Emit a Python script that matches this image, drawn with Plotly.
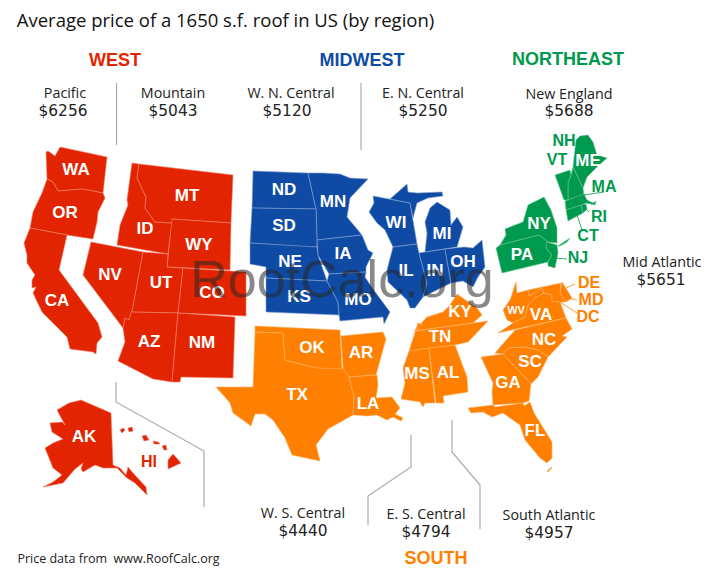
import plotly.graph_objects as go

# Outline of each state (page pixels)
WEST = {
    "WA": [(46,152),(48,151),(55,156),(60,147),(107,157),(103,193),(83,189),(58,191),(53,182),(47,179)],
    "OR": [(47,179),(53,182),(58,191),(83,189),(103,193),(105,198),(98,212),(97,222),(93,239),(67,235),(30,228),(33,212),(42,193)],
    "CA": [(30,228),(67,235),(59,270),(98,323),(102,337),(97,343),(96,354),(93,352),(70,349),(67,337),(53,323),(42,312),(33,293),(36,287),(32,288),(32,280),(35,275),(27,263),(27,255),(24,243)],
    "NV": [(91,242),(143,252),(132,312),(129,320),(125,318),(123,328),(83,275)],
    "ID": [(132,163),(139,164),(137,178),(146,197),(145,208),(155,222),(172,223),(168,254),(117,245),(120,225),(128,205),(127,200)],
    "MT": [(139,164),(233,175),(231,223),(172,219),(172,223),(155,222),(145,208),(146,197),(137,178)],
    "WY": [(172,219),(231,223),(230,270),(167,267)],
    "UT": [(143,252),(168,254),(167,267),(183,268),(178,313),(132,312)],
    "CO": [(183,268),(246,272),(246,316),(178,313)],
    "AZ": [(131,312),(178,313),(172,382),(153,379),(118,361),(121,353),(125,342),(123,328),(125,318),(129,320)],
    "NM": [(178,313),(235,317),(233,378),(187,377),(181,377),(180,382),(172,382)],
    "AK": [(57,410),(69,403),(81,400),(111,413),(113,465),(120,468),(126,475),(128,467),(133,473),(146,487),(147,495),(135,483),(127,478),(117,468),(103,468),(95,465),(83,472),(81,469),(83,463),(75,469),(63,483),(43,487),(53,482),(62,475),(53,468),(45,448),(53,443),(63,439),(52,432),(50,423),(62,422),(65,425)],
    "HI1": [(120,430),(123,428),(125,430),(122,433)],
    "HI2": [(128,428),(132,427),(133,431),(129,432)],
    "HI3": [(142,436),(146,435),(149,440),(144,441)],
    "HI4": [(153,441),(158,442),(160,444),(154,444)],
    "HI5": [(162,446),(166,445),(167,450),(164,450)],
    "HI6": [(168,460),(173,454),(181,463),(175,466),(168,469)],
}
MIDWEST = {
    "ND": [(253,171),(308,173),(316,209),(252,208)],
    "MN": [(308,173),(323,173),(340,174),(350,178),(368,179),(350,198),(347,217),(362,235),(317,240),(316,209)],
    "SD": [(252,208),(316,209),(317,240),(317,247),(308,247),(250,243)],
    "NE": [(250,243),(308,247),(317,247),(318,255),(327,281),(266,278),(266,267),(250,264)],
    "IA": [(317,240),(362,235),(368,250),(373,253),(366,267),(366,272),(329,274),(318,255)],
    "KS": [(266,278),(327,281),(338,302),(339,315),(266,312)],
    "MO": [(329,274),(366,272),(365,277),(373,289),(390,312),(384,324),(383,317),(340,321),(339,315),(338,302),(327,281)],
    "WI": [(373,196),(390,199),(410,203),(415,232),(417,244),(393,247),(385,230),(377,223),(369,212),(374,203)],
    "MI1": [(390,199),(407,184),(408,192),(417,193),(442,192),(443,196),(428,198),(417,203),(413,218),(410,203)],
    "MI2": [(437,202),(450,210),(451,225),(457,217),(463,227),(457,247),(425,252),(427,233),(425,222),(430,208)],
    "IL": [(393,247),(417,244),(419,253),(427,283),(423,297),(415,308),(410,308),(407,300),(388,282),(387,270)],
    "IN": [(419,253),(445,249),(451,283),(440,288),(433,292),(423,297),(427,283)],
    "OH": [(445,249),(464,247),(473,248),(482,240),(485,267),(478,277),(473,287),(463,281),(451,283)],
}
NORTHEAST = {
    "ME": [(576,140),(580,136),(588,135),(593,142),(597,155),(607,158),(597,167),(587,177),(583,188),(573,167)],
    "NH": [(573,167),(583,188),(584,195),(568,200),(568,183),(571,175)],
    "VT": [(555,175),(570,170),(571,175),(568,183),(568,200),(564,200)],
    "MA": [(565,201),(584,194),(587,200),(593,203),(596,201),(595,205),(586,203),(582,205),(566,210)],
    "CT": [(566,210),(581,205),(583,213),(568,221)],
    "RI": [(581,205),(586,204),(587,209),(583,213)],
    "NY": [(528,205),(544,197),(551,210),(557,228),(557,243),(548,242),(539,235),(500,245),(506,235),(505,229),(515,225),(523,222)],
    "LI": [(558,246),(570,238),(567,242),(560,246)],
    "PA": [(496,248),(500,245),(539,235),(548,242),(546,248),(552,255),(548,262),(502,273)],
    "NJ": [(547,242),(557,245),(558,253),(555,268),(548,266),(548,262),(552,255),(546,248)],
}
SOUTH = {
    "TX": [(255,332),(283,333),(285,360),(317,368),(343,368),(349,377),(354,397),(353,415),(328,429),(316,445),(320,461),(292,455),(285,438),(273,420),(265,414),(255,414),(251,426),(233,413),(230,403),(216,387),(253,387)],
    "OK": [(255,326),(340,330),(342,369),(317,368),(285,360),(283,333),(255,332)],
    "AR": [(341,336),(383,332),(386,339),(376,375),(349,377),(343,368)],
    "LA": [(349,377),(377,375),(378,385),(376,398),(392,397),(400,408),(395,414),(403,418),(401,421),(393,417),(387,420),(377,415),(367,416),(353,415),(354,397)],
    "KY": [(457,294),(467,301),(477,308),(482,315),(473,323),(414,331),(427,317),(443,312),(450,305)],
    "TN": [(488,321),(468,342),(455,345),(409,351),(418,323),(423,325),(415,331),(473,323)],
    "MS": [(409,351),(429,348),(435,403),(425,403),(423,407),(420,402),(401,399),(405,383),(403,368)],
    "AL": [(429,348),(455,345),(467,377),(468,392),(443,396),(444,403),(436,403)],
    "WV": [(516,282),(517,293),(528,290),(529,296),(542,288),(544,293),(535,298),(528,305),(525,317),(513,323),(507,320),(503,310),(510,300)],
    "VA": [(544,293),(552,295),(552,301),(560,302),(566,318),(498,333),(513,323),(525,317),(528,305),(535,298)],
    "MD": [(528,290),(561,283),(560,293),(566,302),(560,302),(552,301),(552,295),(544,293),(542,288),(529,296)],
    "DE": [(562,282),(572,298),(566,302),(560,293)],
    "NC": [(515,330),(566,318),(572,329),(562,336),(567,337),(548,357),(538,350),(525,347),(508,348),(503,354),(495,353),(502,345)],
    "SC": [(503,354),(508,348),(525,347),(538,350),(548,357),(538,377),(531,384),(518,370)],
    "GA": [(481,357),(503,354),(518,370),(531,384),(529,401),(523,403),(493,405),(492,392),(493,383)],
    "FL": [(468,408),(493,405),(495,407),(523,403),(524,406),(530,402),(534,413),(552,442),(552,458),(547,463),(540,458),(525,440),(520,425),(503,413),(492,417),(483,412),(471,413)],
    "KEYS": [(547,471),(552,467),(552,468),(548,472)],
}

DIVISIONS = ["Pacific", "Mountain", "W. N. Central", "E. N. Central", "New England",
             "Mid Atlantic", "W. S. Central", "E. S. Central", "South Atlantic"]
PRICES = [6256, 5043, 5120, 5250, 5688, 5651, 4440, 4794, 4957]
DIV_NAME_X = [65, 173, 291, 423, 569, 662, 303, 426, 549]
DIV_NAME_Y = [92, 92, 92, 92, 93, 261, 512, 513, 514]
DIV_PRICE_X = [63, 173, 287, 423, 569, 661, 303, 426, 549]
DIV_PRICE_Y = [111, 111, 111, 111, 111, 280, 531, 532, 533]

REGIONS = ["WEST", "MIDWEST", "NORTHEAST", "SOUTH"]
REGION_X = [115, 362, 568, 436]
REGION_Y = [60, 60, 59, 558]

RED = "#E32400"
BLUE = "#0F4BA5"
GREEN = "#009A4E"
ORANGE = "#FF8000"
REGION_COLORS = [RED, BLUE, GREEN, ORANGE]
BORDER_COLORS = ["#F0806A", "#7FA0D2", "#66C294", "#FFB066"]

# Abbreviations printed on the states
ON_MAP = ["WA","OR","CA","NV","ID","MT","WY","UT","CO","AZ","NM","AK","ND","SD","NE","KS","IA","MN","MO",
          "WI","IL","IN","OH","MI","TX","OK","AR","LA","MS","AL","TN","KY","VA","NC","SC","GA","FL","ME","NY","PA"]
ON_MAP_X = [76,65,57,110,145,187,199,161,212,149,202,84,284,284,290,299,343,333,358,
            396,406,435,463,442,297,312,361,368,417,448,440,460,541,544,530,508,535,588,539,522]
ON_MAP_Y = [170,213,301,275,229,196,245,283,293,342,343,437,190,226,262,297,254,202,300,
            223,271,271,262,234,395,348,353,404,374,373,337,312,315,340,362,383,431,161,224,255]

GREEN_LABELS = ["NH", "VT", "MA", "RI", "CT", "NJ"]
GREEN_X = [564, 557, 604, 599, 588, 578]
GREEN_Y = [141, 160, 187, 217, 236, 258]
ORANGE_LABELS = ["DE", "MD", "DC"]
ORANGE_X = [589, 591, 588]
ORANGE_Y = [283, 300, 317]

# Grey leader lines between the divisions
LEADERS = [
    [(116.5, 83), (116.5, 145)],
    [(361, 83), (361, 150)],
    [(116, 382), (116, 402), (204, 451), (204, 507)],
    [(411, 435), (411, 467), (368, 496), (368, 525)],
    [(452, 420), (452, 452), (480, 485), (480, 529)],
]
GREEN_TICKS = [[(604, 192), (584, 195)], [(589, 212), (582, 205)], [(582, 230), (577, 215)], [(567, 259), (555, 258)]]
ORANGE_TICKS = [[(575, 284), (566, 288)], [(577, 300), (568, 298)], [(577, 313), (560, 302)]]

SANS = "Liberation Sans"
THIN = "Open Sans"
WIDE = "DejaVu Sans"


def add_text(fig, xs, ys, labels, size, color, family=SANS, weight=700, dy=1):
    fig.add_trace(go.Scatter(x=xs, y=[y + dy for y in ys], text=labels, mode="text", textposition="middle center",
                             textfont=dict(family=family, size=size, color=color, weight=weight),
                             hoverinfo="skip", showlegend=False))


def add_line(fig, pts, color, width):
    fig.add_trace(go.Scatter(x=[p[0] for p in pts], y=[p[1] for p in pts], mode="lines",
                             line=dict(color=color, width=width), hoverinfo="skip", showlegend=False))


fig = go.Figure()

for pts in LEADERS:
    add_line(fig, pts, "#A9A9B2", 1.2)

# States
for group, color, edge in zip([WEST, MIDWEST, NORTHEAST, SOUTH], REGION_COLORS, BORDER_COLORS):
    for name, pts in group.items():
        fig.add_trace(go.Scatter(x=[p[0] for p in pts] + [pts[0][0]], y=[p[1] for p in pts] + [pts[0][1]],
                                 mode="lines", fill="toself", fillcolor=color,
                                 line=dict(color=edge, width=0.6),
                                 name=name, hoverinfo="skip", showlegend=False))

for pts in GREEN_TICKS:
    add_line(fig, pts, GREEN, 0.8)
for pts in ORANGE_TICKS:
    add_line(fig, pts, ORANGE, 0.8)

add_text(fig, ON_MAP_X, ON_MAP_Y, ON_MAP, 17, "white")
add_text(fig, [516], [310], ["WV"], 11, "white")
add_text(fig, [149], [462], ["HI"], 16, RED)
add_text(fig, GREEN_X, GREEN_Y, GREEN_LABELS, 16, GREEN)
add_text(fig, ORANGE_X, ORANGE_Y, ORANGE_LABELS, 16, ORANGE)

for i, region in enumerate(REGIONS):
    add_text(fig, [REGION_X[i]], [REGION_Y[i]], [region], 18, REGION_COLORS[i])

add_text(fig, DIV_NAME_X, DIV_NAME_Y, DIVISIONS, 14.3, "#222222", THIN, 400, 2)
add_text(fig, DIV_PRICE_X, DIV_PRICE_Y, ["$" + str(p) for p in PRICES], 15.4, "#222222", WIDE, 400, 1)

add_text(fig, [225.5], [20], ["Average price of a 1650 s.f. roof in US (by region)"], 18.5, "#111111", THIN, 500, 2)
add_text(fig, [118.5], [558], ["Price data from  www.RoofCalc.org"], 12.5, "#222222", THIN, 400, 2)

# Watermark sits over everything
add_text(fig, [342], [284], ["RootCalc.org"], 52, "rgba(40,40,40,0.55)", SANS, 400, 0)

fig.update_layout(width=718, height=575, margin=dict(l=0, r=0, t=0, b=0),
                  paper_bgcolor="white", plot_bgcolor="white", showlegend=False,
                  xaxis=dict(range=[0, 718], visible=False, fixedrange=True),
                  yaxis=dict(range=[575, 0], visible=False, fixedrange=True))

fig.write_html("out.html", config=dict(displayModeBar=False),
               post_script="document.body.style.margin='0';")
